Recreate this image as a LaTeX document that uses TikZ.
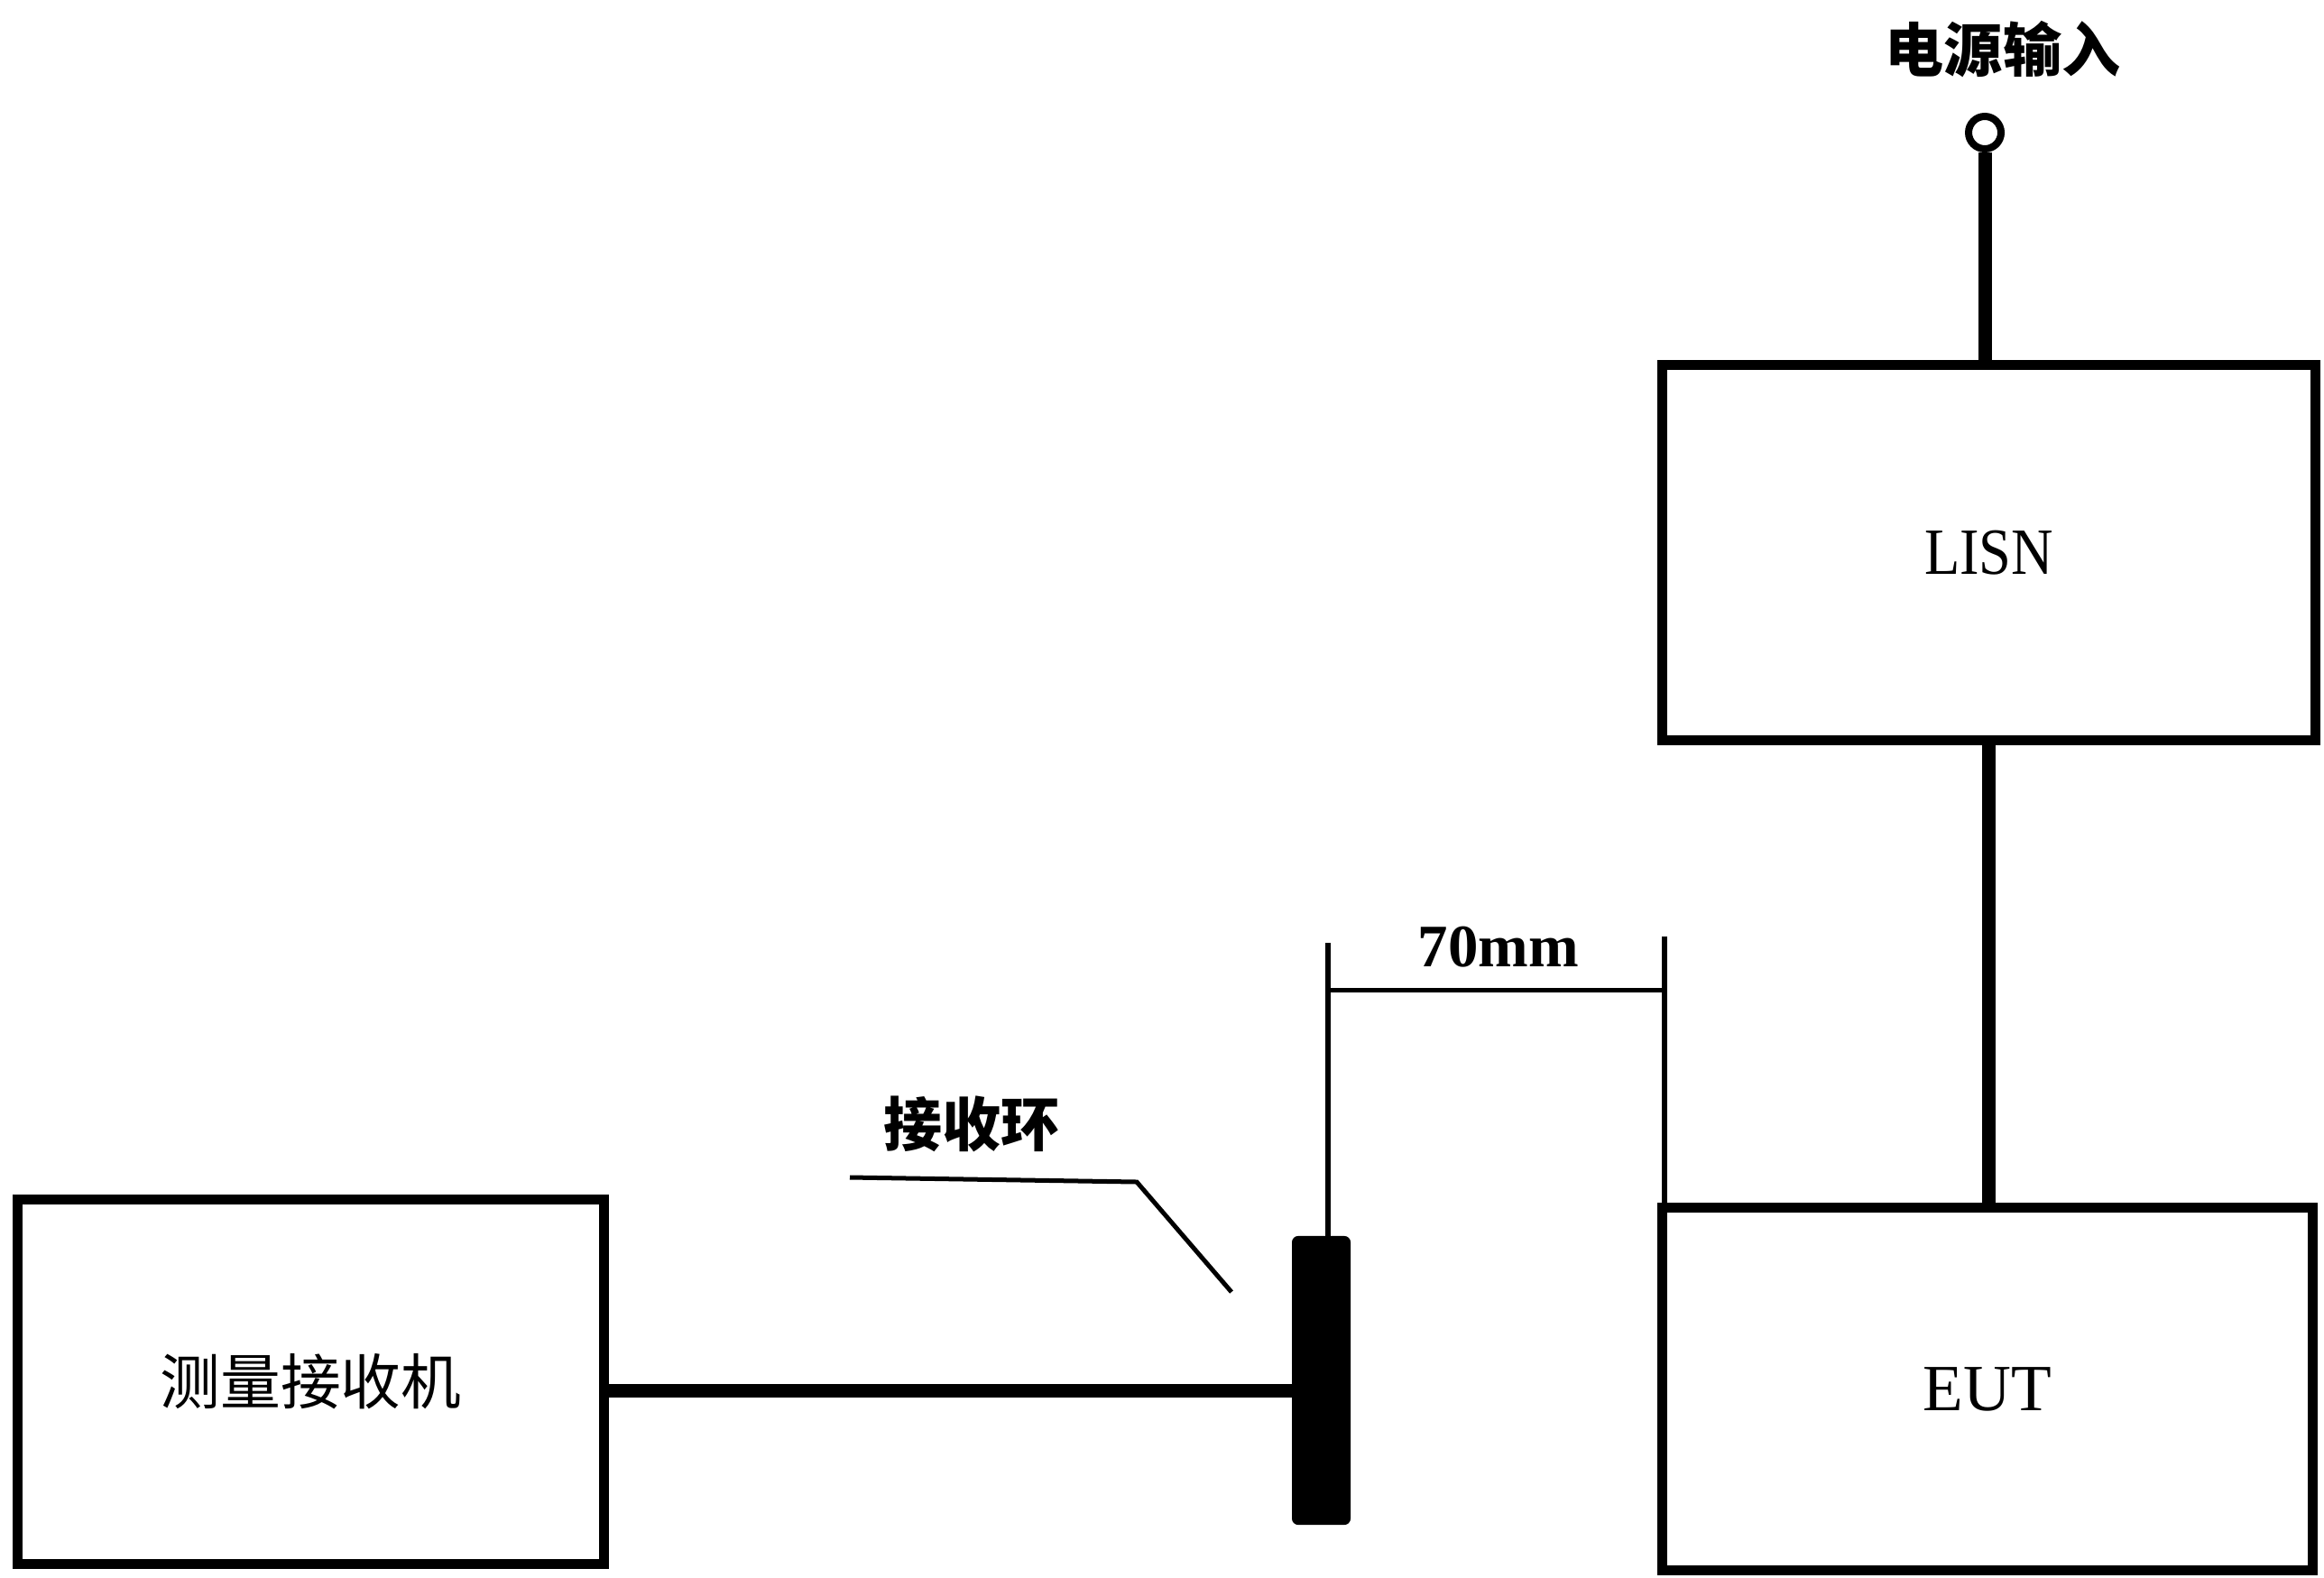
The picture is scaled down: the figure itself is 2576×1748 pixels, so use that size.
\documentclass[tikz,border=0pt]{standalone}
\usepackage{fontspec}
\setmainfont{Liberation Serif}
\newfontfamily\cjk{Noto Sans CJK SC}
\begin{document}
\begin{tikzpicture}[x=0.01cm,y=-0.01cm,
  box/.style={draw,line width=0.11cm,rectangle,inner sep=0pt},
  wire/.style={line width=0.15cm},
  thin/.style={line width=0.06cm},
  latin/.style={font=\fontsize{20.8}{24}\selectfont},
  cjklabel/.style={font=\cjk\bfseries\fontsize{18.5}{22}\selectfont,inner sep=0pt}]
\useasboundingbox (0,0) rectangle (2576,1748);
% boxes
\node[box,minimum width=6.49cm,minimum height=4.03cm,font=\cjk\fontsize{19}{22}\selectfont] (rx) at (344.5,1531.5) {测量接收机};
\node[box,minimum width=7.23cm,minimum height=4.15cm,latin] (lisn) at (2204.5,612.5) {\raisebox{-0.12cm}{\scalebox{0.88}[1]{LISN}}};
\node[box,minimum width=7.20cm,minimum height=4.01cm,latin] (eut) at (2203,1539.5) {EUT};
% receiving ring
\node[draw,fill=black,line width=0.02cm,rounded corners=0.06cm,minimum width=0.63cm,minimum height=3.18cm,inner sep=0pt] (ring) at (1464.5,1530) {};
% power input terminal
\node[draw,circle,line width=0.08cm,minimum size=0.36cm,inner sep=0pt] (pwr) at (2200,147) {};
\node[cjklabel] (pwrlabel) at (2220,55) {电源输入};
% connections
\draw[wire] (pwr.south) -- (pwr.south |- lisn.north);
\draw[wire] (lisn.south) -- (lisn.south |- eut.north);
\coordinate (w) at (669,1541);
\draw[wire] (w -| rx.east) -- (w -| ring.west);
% dimension 70mm
\coordinate (dl) at (1472,1045);
\draw[thin] (dl) -- (dl |- ring.north);
\coordinate (dr) at (1845,1038);
\draw[thin] (dr) -- (dr |- eut.north);
\coordinate (h1) at (1472,1097);
\coordinate (h2) at (1845,1097);
\draw[line width=0.05cm] (h1) -- (h2);
\node[font=\bfseries\fontsize{19}{22}\selectfont,inner sep=0pt] (dim) at (1661,1050) {70mm};
% leader for ring
\coordinate (l0) at (942,1305);
\coordinate (l1) at (1260,1310);
\coordinate (l2) at (1365,1432);
\draw[line width=0.05cm] (l0) -- (l1) -- (l2);
\node[cjklabel] (ringlabel) at (1077,1246) {接收环};
\end{tikzpicture}
\end{document}
